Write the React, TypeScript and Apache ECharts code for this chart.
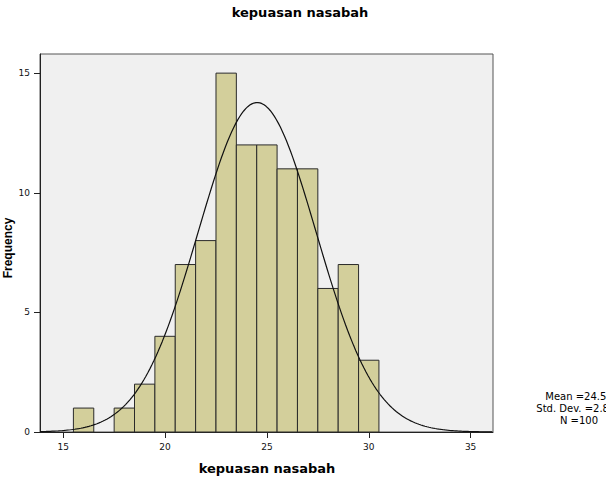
import React, { useEffect, useRef } from "react";
import * as echarts from "echarts";

const BIN_CENTERS = [16, 17, 18, 19, 20, 21, 22, 23, 24, 25, 26, 27, 28, 29, 30];
const FREQUENCIES = [1, 0, 1, 2, 4, 7, 8, 15, 12, 12, 11, 11, 6, 7, 3];
const X_TICKS = [15, 20, 25, 30, 35];
const Y_TICKS = [0, 5, 10, 15];
const MEAN = 24.52;
const STD_DEV = 2.897;
const N = 100;
const BIN_WIDTH = 1;
const STAT_LINES = ["Mean =24.52", "Std. Dev. =2.897", "N =100"];

const X_MIN = 13.86;
const X_MAX = 36.1;

export default function App() {
  const ref = useRef<HTMLDivElement>(null);
  useEffect(() => {
    if (!ref.current) return;
    const chart = echarts.init(ref.current, null, { renderer: "svg" });

    const barData = BIN_CENTERS.map((c, i) => [c, FREQUENCIES[i]]);
    const curve: number[][] = [];
    for (let x = X_MIN; x <= X_MAX + 1e-9; x += 0.1) {
      const z = (x - MEAN) / STD_DEV;
      curve.push([x, (N * BIN_WIDTH) / (STD_DEV * Math.sqrt(2 * Math.PI)) * Math.exp(-0.5 * z * z)]);
    }

    const font = "'DejaVu Sans', 'Liberation Sans', Arial, sans-serif";

    chart.setOption({
      animation: false,
      grid: {
        left: 40,
        top: 54,
        width: 453,
        height: 378,
        show: true,
        backgroundColor: "#f0f0f0",
        borderColor: "#555",
        borderWidth: 1,
      },
      xAxis: {
        type: "value",
        min: X_MIN,
        max: X_MAX,
        splitLine: { show: false },
        axisLine: { show: true, lineStyle: { color: "#222", width: 1 } },
        axisTick: { show: true, customValues: X_TICKS, length: 6, inside: false, lineStyle: { color: "#222" } },
        axisLabel: { customValues: X_TICKS, margin: 10, fontSize: 9, color: "#111", fontFamily: font },
      },
      yAxis: {
        type: "value",
        min: 0,
        max: 15.8,
        splitLine: { show: false },
        axisLine: { show: true, lineStyle: { color: "#222", width: 1 } },
        axisTick: { show: true, customValues: Y_TICKS, length: 6, inside: false, lineStyle: { color: "#222" } },
        axisLabel: { customValues: Y_TICKS, margin: 10, fontSize: 9, color: "#111", fontFamily: font },
      },
      series: [
        {
          type: "custom",
          data: barData,
          renderItem: (params: any, api: any) => {
            const c = api.value(0);
            const v = api.value(1);
            if (!v) return null;
            const p1 = api.coord([c - BIN_WIDTH / 2, v]);
            const p2 = api.coord([c + BIN_WIDTH / 2, 0]);
            return {
              type: "rect",
              shape: { x: p1[0], y: p1[1], width: p2[0] - p1[0], height: p2[1] - p1[1] },
              style: { fill: "#d3cf9b", stroke: "#2a2a2a", lineWidth: 1 },
            };
          },
          z: 2,
        },
        {
          type: "line",
          data: curve,
          showSymbol: false,
          smooth: false,
          clip: true,
          lineStyle: { color: "#111", width: 1.2 },
          z: 3,
        },
      ],
      graphic: [
        {
          type: "text",
          x: 300,
          y: 12,
          style: {
            text: "kepuasan nasabah",
            font: `bold 13px ${font}`,
            fill: "#000",
            align: "center",
            verticalAlign: "middle",
          },
        },
        {
          type: "text",
          x: 267,
          y: 468,
          style: {
            text: "kepuasan nasabah",
            font: `bold 13px ${font}`,
            fill: "#000",
            align: "center",
            verticalAlign: "middle",
          },
        },
        {
          type: "text",
          x: 8,
          y: 248,
          rotation: Math.PI / 2,
          style: {
            text: "Frequency",
            font: `bold 12px 'Liberation Sans Narrow', 'Liberation Sans', Arial, sans-serif`,
            fill: "#000",
            align: "center",
            verticalAlign: "middle",
          },
        },
        ...STAT_LINES.map((t, i) => ({
          type: "text",
          x: 579,
          y: 396 + i * 12,
          style: {
            text: t,
            font: `10px ${font}`,
            fill: "#000",
            align: "center",
            verticalAlign: "middle",
          },
        })),
      ],
    });
    return () => chart.dispose();
  }, []);
  return (
    <div
      ref={ref}
      style={{ position: "fixed", left: 0, top: 0, width: 606, height: 478, background: "#fff" }}
    />
  );
}
